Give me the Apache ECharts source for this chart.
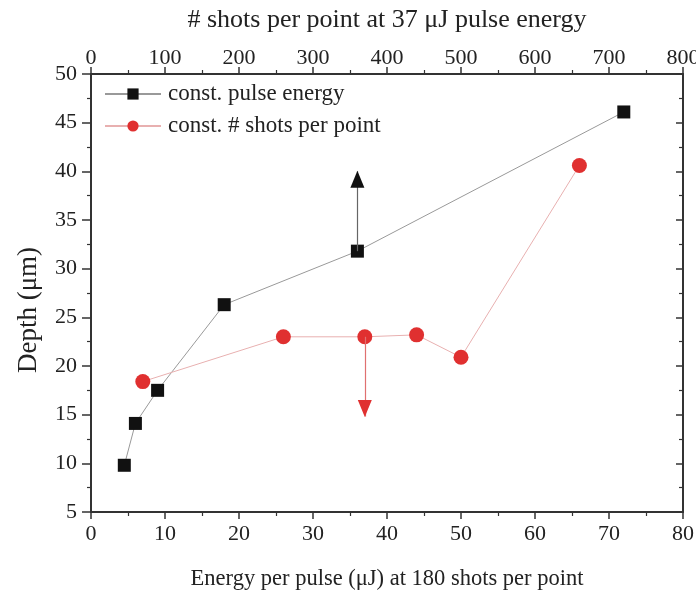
<!DOCTYPE html>
<html>
<head>
<meta charset="utf-8">
<script src="https://cdn.jsdelivr.net/npm/echarts@6/dist/echarts.min.js"></script>
<style>
  html, body { margin: 0; padding: 0; background: #fff; }
  #chart { width: 696px; height: 594px; }
</style>
</head>
<body>
<div id="chart"></div>
<script>
// const. pulse energy (37 uJ): shots per point vs depth
const shotsPerPoint = [45, 60, 90, 180, 360, 720]
const depthConstEnergy = [9.8, 14.1, 17.5, 26.3, 31.8, 46.1]

// const. # shots (180): pulse energy vs depth
const pulseEnergy = [7, 26, 37, 44, 50, 66]
const depthConstShots = [18.4, 23.0, 23.0, 23.2, 20.9, 40.6]

// arrows: [x, yStart, yEnd]
const blackArrow = [360, 31.8, 40.0]
const redArrow = [37, 23.0, 14.8]

const font = 'Liberation Serif'
const axisColor = '#333'

const chart = echarts.init(document.getElementById('chart'))

const commonAxis = {
  axisLine: { show: true, onZero: false, lineStyle: { color: axisColor, width: 2 } },
  axisTick: { show: true, length: 7, lineStyle: { color: axisColor, width: 1.5 } },
  minorTick: { show: true, splitNumber: 2, length: 4, lineStyle: { color: axisColor, width: 1.2 } },
  splitLine: { show: false },
  axisLabel: { color: '#222', fontFamily: font, fontSize: 22 },
  nameTextStyle: { color: '#222', fontFamily: font, fontSize: 22 }
}

// arrow = shaft (markLine) + head (markPoint)
const arrow = (a, lineColor, headColor, up) => ({
  markLine: {
    silent: true,
    symbol: 'none',
    label: { show: false },
    lineStyle: { color: lineColor, width: 1.2, type: 'solid' },
    data: [[{ coord: [a[0], a[1]] }, { coord: [a[0], a[2]] }]]
  },
  markPoint: {
    silent: true,
    label: { show: false },
    data: [{
      coord: [a[0], a[2]],
      symbol: 'triangle',
      symbolSize: [14, 17],
      symbolRotate: up ? 0 : 180,
      symbolOffset: [0, up ? 8 : -8],
      itemStyle: { color: headColor }
    }]
  }
})

chart.setOption({
  animation: false,
  grid: { left: 91, right: 13, top: 74, bottom: 82, outerBoundsMode: 'none' },
  legend: {
    left: 99,
    top: 77,
    orient: 'vertical',
    itemWidth: 56,
    itemHeight: 14,
    itemGap: 8,
    textStyle: { color: '#222', fontFamily: font, fontSize: 23, lineHeight: 24, padding: [0, 0, 0, 2] },
    data: ['const. pulse energy', 'const. # shots per point']
  },
  xAxis: [
    {
      ...commonAxis,
      type: 'value',
      position: 'bottom',
      min: 0, max: 80, interval: 10,
      axisLabel: { ...commonAxis.axisLabel, margin: 11 },
      name: 'Energy per pulse (\u03bcJ) at 180 shots per point',
      nameLocation: 'middle',
      nameGap: 56,
      nameTextStyle: { ...commonAxis.nameTextStyle, fontSize: 22.5 }
    },
    {
      ...commonAxis,
      type: 'value',
      position: 'top',
      min: 0, max: 800, interval: 100,
      axisLabel: { ...commonAxis.axisLabel, margin: 5 },
      name: '# shots per point at 37 \u03bcJ pulse energy',
      nameLocation: 'middle',
      nameGap: 41,
      nameTextStyle: { ...commonAxis.nameTextStyle, fontSize: 26 }
    }
  ],
  yAxis: [
    {
      ...commonAxis,
      type: 'value',
      position: 'left',
      min: 5, max: 50, interval: 5,
      axisTick: { ...commonAxis.axisTick, length: 9 },
      axisLabel: { ...commonAxis.axisLabel, margin: 14 },
      name: 'Depth (\u03bcm)',
      nameLocation: 'middle',
      nameGap: 49,
      nameTextStyle: { ...commonAxis.nameTextStyle, fontSize: 27, padding: [0, 34, 0, 0] }
    },
    {
      ...commonAxis,
      type: 'value',
      position: 'right',
      min: 5, max: 50, interval: 5,
      axisLabel: { show: false },
      axisTick: { ...commonAxis.axisTick, inside: true },
      minorTick: { ...commonAxis.minorTick, inside: true }
    }
  ],
  series: [
    {
      name: 'const. pulse energy',
      type: 'line',
      xAxisIndex: 1,
      yAxisIndex: 0,
      data: shotsPerPoint.map((x, i) => [x, depthConstEnergy[i]]),
      symbol: 'rect',
      symbolSize: 13,
      itemStyle: { color: '#111' },
      lineStyle: { color: '#999', width: 1 },
      z: 3,
      ...arrow(blackArrow, '#666', '#111', true)
    },
    {
      name: 'const. # shots per point',
      type: 'line',
      xAxisIndex: 0,
      yAxisIndex: 0,
      data: pulseEnergy.map((x, i) => [x, depthConstShots[i]]),
      symbol: 'circle',
      symbolSize: 15,
      itemStyle: { color: '#e03030' },
      lineStyle: { color: '#e8b0b0', width: 1 },
      z: 3,
      ...arrow(redArrow, '#e07070', '#e03030', false)
    }
  ]
})
</script>
</body>
</html>
